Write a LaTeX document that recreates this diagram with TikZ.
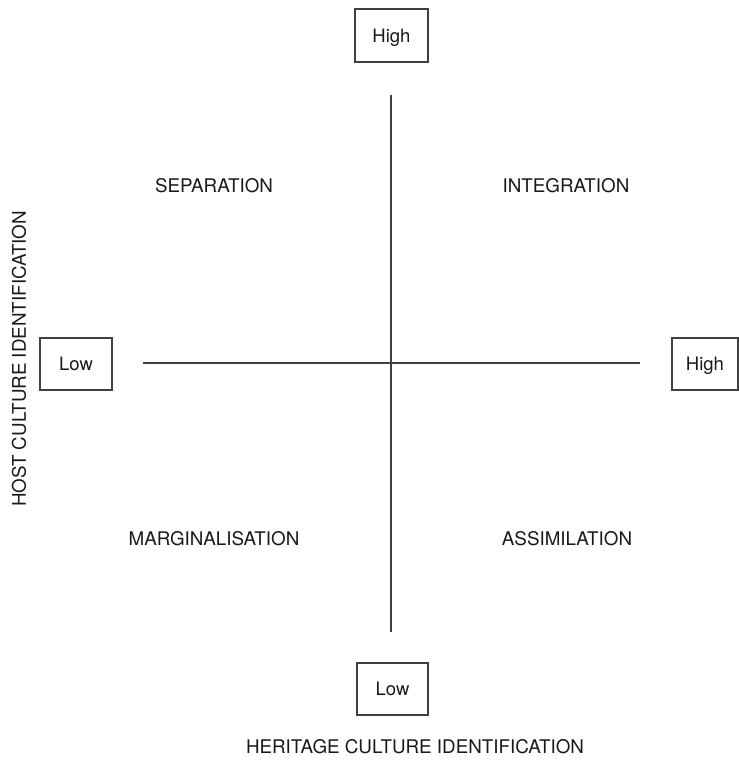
\documentclass[tikz,border=0pt]{standalone}
\usepackage{fontspec}
\setmainfont{TeX Gyre Heros}
\begin{document}
\begin{tikzpicture}[x=1pt,y=-1pt,
  lab/.style={font=\fontsize{18.8}{20}\selectfont, text=black!90, inner sep=0pt},
  valbox/.style={draw=black!75, line width=1.4pt, rectangle, inner sep=0pt,
     font=\fontsize{18.5}{20}\selectfont, text=black!90, text height=13.5pt, text depth=0pt},
  axis/.style={draw=black!75, line width=1.4pt}]
\useasboundingbox[fill=white] (0,0) rectangle (739,761);
% value boxes
\node[valbox, minimum width=73pt, minimum height=53pt] (tophigh) at (391.5,35.5) {High};
\node[valbox, minimum width=72pt, minimum height=52pt] (leftlow) at (76,364) {Low};
\node[valbox, minimum width=66pt, minimum height=52pt] (righthigh) at (705,364) {High};
\node[valbox, minimum width=71pt, minimum height=52pt] (botlow) at (392.5,689) {Low};
% axes
\coordinate (vtop) at (391,95);
\coordinate (vbot) at (391,632);
\coordinate (hleft) at (143,363);
\coordinate (hright) at (640,363);
\draw[axis] (vtop) -- (vbot);
\draw[axis] (hleft) -- (hright);
% quadrant labels
\node[lab] (sep) at (214,186) {SEPARATION};
\node[lab] (integ) at (566,186) {INTEGRATION};
\node[lab] (marg) at (214,539) {MARGINALISATION};
\node[lab] (assim) at (567,539) {ASSIMILATION};
% axis titles
\node[lab] (heritage) at (415,747) {HERITAGE CULTURE IDENTIFICATION};
\node[lab, rotate=90] (host) at (19,359) {HOST CULTURE IDENTIFICATION};
\end{tikzpicture}
\end{document}
